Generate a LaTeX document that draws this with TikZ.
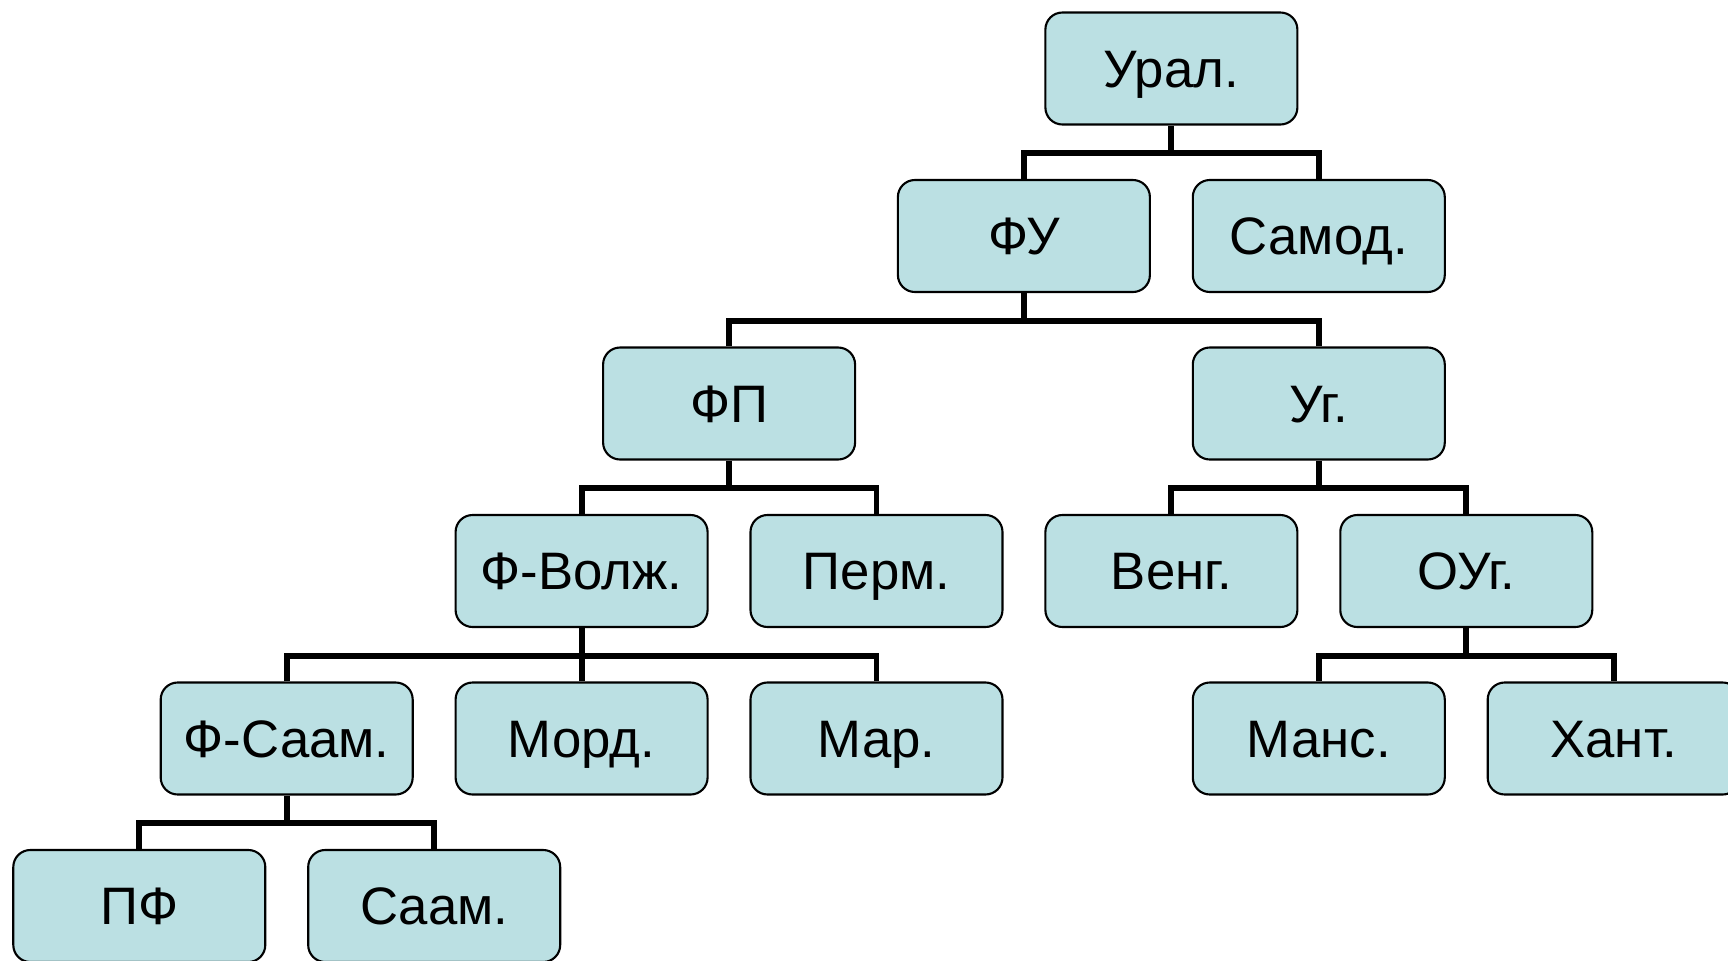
\documentclass[tikz,border=0pt]{standalone}
\usepackage{fontspec}
\setmainfont{Liberation Sans}
\usepackage{tikz}
\usetikzlibrary{positioning}
\definecolor{boxblue}{RGB}{187,224,227}
\tikzset{
  lang/.style={draw=black, line width=0.6pt, fill=boxblue, rounded corners=0.17cm,
    minimum width=2.52cm, minimum height=1.12cm, inner sep=0pt,
    text height=10.7pt, text depth=0pt, font=\fontsize{15pt}{18pt}\selectfont},
  bus/.style={line width=1.7pt, line join=miter}
}
\begin{document}
\begin{tikzpicture}
\useasboundingbox (0,0) rectangle (17.28,9.6);
% Ebene 0
\node[lang] (ural) at (11.714,8.915) {Урал.};
% Ebene 1
\node[lang] (fu) at (10.239,7.240) {ФУ};
\node[lang] (samod) at (13.188,7.240) {Самод.};
% Ebene 2
\node[lang] (fp) at (7.291,5.565) {ФП};
\node[lang] (ug) at (13.188,5.565) {Уг.};
% Ebene 3
\node[lang] (fvolzh) at (5.816,3.890) {Ф-Волж.};
\node[lang] (perm) at (8.765,3.890) {Перм.};
\node[lang] (veng) at (11.714,3.890) {Венг.};
\node[lang] (oug) at (14.663,3.890) {ОУг.};
% Ebene 4
\node[lang] (fsaam) at (2.867,2.215) {Ф-Саам.};
\node[lang] (mord) at (5.816,2.215) {Морд.};
\node[lang] (mar) at (8.765,2.215) {Мар.};
\node[lang] (mans) at (13.188,2.215) {Манс.};
\node[lang] (hant) at (16.137,2.215) {Хант.};
% Ebene 5
\node[lang] (pf) at (1.393,0.540) {ПФ};
\node[lang] (saam) at (4.342,0.540) {Саам.};
% Verbindungen
\coordinate[below=0.2775cm of ural.south] (uralb);
\draw[bus] (ural.south) -- (uralb);
\draw[bus] (fu.north) |- (uralb);
\draw[bus] (samod.north) |- (uralb);
\coordinate[below=0.2775cm of fu.south] (fub);
\draw[bus] (fu.south) -- (fub);
\draw[bus] (fp.north) |- (fub);
\draw[bus] (ug.north) |- (fub);
\coordinate[below=0.2775cm of fp.south] (fpb);
\draw[bus] (fp.south) -- (fpb);
\draw[bus] (fvolzh.north) |- (fpb);
\draw[bus] (perm.north) |- (fpb);
\coordinate[below=0.2775cm of ug.south] (ugb);
\draw[bus] (ug.south) -- (ugb);
\draw[bus] (veng.north) |- (ugb);
\draw[bus] (oug.north) |- (ugb);
\coordinate[below=0.2775cm of fvolzh.south] (fvolzhb);
\draw[bus] (fvolzh.south) -- (fvolzhb);
\draw[bus] (fsaam.north) |- (fvolzhb);
\draw[bus] (mord.north) |- (fvolzhb);
\draw[bus] (mar.north) |- (fvolzhb);
\coordinate[below=0.2775cm of oug.south] (ougb);
\draw[bus] (oug.south) -- (ougb);
\draw[bus] (mans.north) |- (ougb);
\draw[bus] (hant.north) |- (ougb);
\coordinate[below=0.2775cm of fsaam.south] (fsaamb);
\draw[bus] (fsaam.south) -- (fsaamb);
\draw[bus] (pf.north) |- (fsaamb);
\draw[bus] (saam.north) |- (fsaamb);
\end{tikzpicture}
\end{document}
